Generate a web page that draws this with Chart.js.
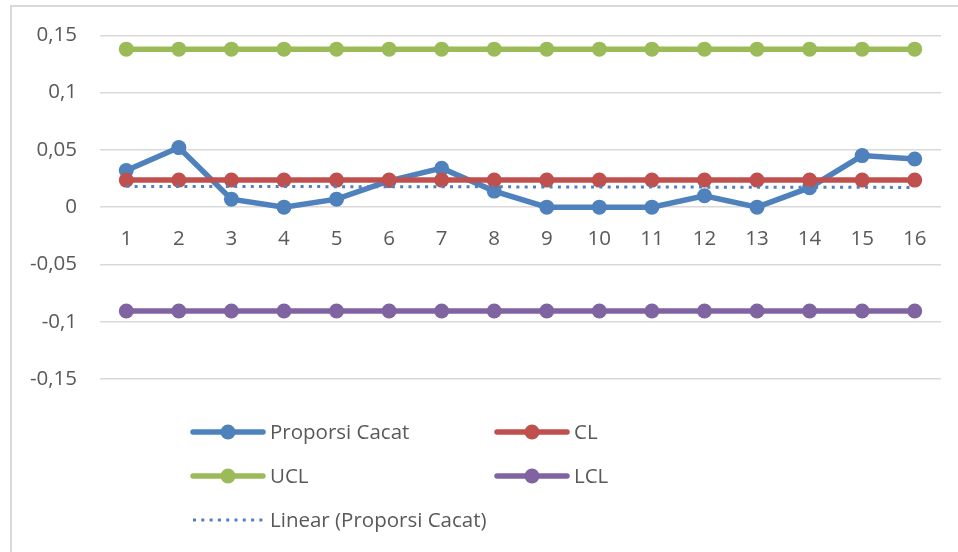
<!DOCTYPE html>
<html>
<head>
<meta charset="utf-8">
<script src="https://cdn.jsdelivr.net/npm/chart.js@4/dist/chart.umd.min.js"></script>
<style>
  html, body { margin: 0; padding: 0; background: #fff; overflow: hidden; }
  #wrap { position: relative; width: 958px; height: 552px; }
  #frame { position: absolute; left: 10px; top: 5px; width: 1000px; height: 600px;
           border: 2px solid #d9d9d9; box-sizing: border-box; pointer-events: none; }
  canvas { position: absolute; left: 0; top: 0; }
</style>
</head>
<body>
<div id="wrap">
  <canvas id="c" width="958" height="552"></canvas>
  <div id="frame"></div>
</div>
<script>
// Sample numbers 1..16
const categories = ['1','2','3','4','5','6','7','8','9','10','11','12','13','14','15','16'];

// Defect proportion per sample
const proporsiCacat = [0.032, 0.052, 0.007, 0, 0.007, 0.023, 0.034, 0.014, 0, 0, 0, 0.01, 0, 0.017, 0.045, 0.042];

// Control limits
const clValues  = [0.0236, 0.0236, 0.0236, 0.0236, 0.0236, 0.0236, 0.0236, 0.0236, 0.0236, 0.0236, 0.0236, 0.0236, 0.0236, 0.0236, 0.0236, 0.0236];
const uclValues = [0.1379, 0.1379, 0.1379, 0.1379, 0.1379, 0.1379, 0.1379, 0.1379, 0.1379, 0.1379, 0.1379, 0.1379, 0.1379, 0.1379, 0.1379, 0.1379];
const lclValues = [-0.0907, -0.0907, -0.0907, -0.0907, -0.0907, -0.0907, -0.0907, -0.0907, -0.0907, -0.0907, -0.0907, -0.0907, -0.0907, -0.0907, -0.0907, -0.0907];

// Y axis tick values
const yTicks = [-0.15, -0.1, -0.05, 0, 0.05, 0.1, 0.15];

// Least-squares linear trend of the defect proportion
function linearTrend(ys) {
  const n = ys.length;
  const xs = ys.map((_, i) => i + 1);
  const mx = xs.reduce((a, b) => a + b, 0) / n;
  const my = ys.reduce((a, b) => a + b, 0) / n;
  let sxy = 0, sxx = 0;
  for (let i = 0; i < n; i++) { sxy += (xs[i] - mx) * (ys[i] - my); sxx += (xs[i] - mx) ** 2; }
  const b = sxy / sxx, a = my - b * mx;
  return xs.map(x => a + b * x);
}
const trendValues = linearTrend(proporsiCacat);

const FONT = '"Open Sans", sans-serif';
const FONT_SIZE = 20.5;
const TEXT = '#595959';
const GRID = '#d9d9d9';

function fmt(v) {
  const r = Math.round(v * 100) / 100;
  return String(r).replace('.', ',');
}

// Two-column legend below the plot
const legendPlugin = {
  id: 'twoColLegend',
  afterDraw(chart) {
    const ctx = chart.ctx;
    const ds = chart.data.datasets;
    const cols = [193, 497];
    const rows = [432, 476, 520];
    const lineLen = 70;
    ctx.save();
    ctx.font = FONT_SIZE + 'px ' + FONT;
    ctx.fillStyle = TEXT;
    ctx.textBaseline = 'middle';
    ds.forEach((d, i) => {
      const x = cols[i % 2];
      const y = rows[Math.floor(i / 2)];
      ctx.strokeStyle = d.borderColor;
      ctx.lineWidth = d.borderWidth;
      if (d.borderDash && d.borderDash.length) {
        ctx.setLineDash(d.borderDash);
        ctx.lineCap = 'butt';
      } else {
        ctx.setLineDash([]);
        ctx.lineCap = 'round';
      }
      ctx.beginPath();
      ctx.moveTo(x, y);
      ctx.lineTo(x + lineLen, y);
      ctx.stroke();
      ctx.setLineDash([]);
      if (d.pointRadius > 0) {
        ctx.fillStyle = d.pointBackgroundColor;
        ctx.beginPath();
        ctx.arc(x + lineLen / 2, y, d.pointRadius, 0, Math.PI * 2);
        ctx.fill();
      }
      ctx.fillStyle = TEXT;
      ctx.fillText(d.label, x + lineLen + 7, y + 1);
    });
    ctx.restore();
  }
};

function lineSet(label, data, color, order) {
  return {
    label, data, order,
    borderColor: color,
    backgroundColor: color,
    pointBackgroundColor: color,
    pointBorderWidth: 0,
    pointRadius: 7.5,
    borderWidth: 5.5,
    tension: 0,
    fill: false
  };
}

new Chart(document.getElementById('c'), {
  type: 'line',
  data: {
    labels: categories,
    datasets: [
      lineSet('Proporsi Cacat', proporsiCacat, '#4f81bd', 4),
      lineSet('CL', clValues, '#c0504d', 3),
      lineSet('UCL', uclValues, '#9bbb59', 2),
      lineSet('LCL', lclValues, '#8064a2', 1),
      {
        label: 'Linear (Proporsi Cacat)',
        data: trendValues,
        order: 0,
        borderColor: '#4f81bd',
        backgroundColor: '#4f81bd',
        borderWidth: 3,
        borderDash: [3, 5.3],
        pointRadius: 0,
        fill: false
      }
    ]
  },
  options: {
    responsive: false,
    animation: false,
    events: [],
    layout: { padding: { left: 0, right: 17, top: 35, bottom: 173 } },
    plugins: { legend: { display: false }, tooltip: { enabled: false } },
    scales: {
      x: {
        type: 'category',
        offset: true,
        position: { y: 0 },
        grid: { display: false, drawTicks: false },
        border: { display: false },
        ticks: { color: TEXT, font: { family: FONT, size: FONT_SIZE }, padding: 20, maxRotation: 0, autoSkip: false }
      },
      y: {
        min: -0.15,
        max: 0.15,
        afterFit(s) { s.width = 100; },
        afterBuildTicks(s) { s.ticks = yTicks.map(v => ({ value: v })); },
        grid: { color: GRID, lineWidth: 1.5, drawTicks: false },
        border: { display: false },
        ticks: { color: TEXT, font: { family: FONT, size: FONT_SIZE }, padding: 23, callback: v => fmt(v) }
      }
    }
  },
  plugins: [legendPlugin]
});
</script>
</body>
</html>
